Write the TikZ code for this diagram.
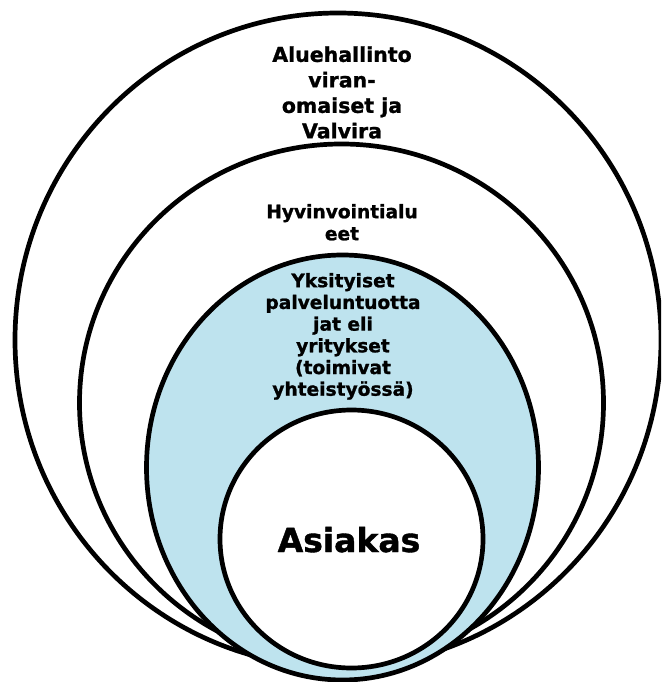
\documentclass[tikz,border=0pt]{standalone}
\usepackage{fontspec}
\setmainfont{DejaVu Sans}[BoldFeatures={FakeBold=1.2}]
\usetikzlibrary{shapes.geometric}
\definecolor{ringblue}{RGB}{190,227,238}
\tikzset{
  ring/.style={ellipse, draw=black, line width=4.7pt, inner sep=0pt, outer sep=0pt},
  lbl/.style={align=center, inner sep=0pt, anchor=north, font=\bfseries}
}
\begin{document}
\begin{tikzpicture}[x=1pt,y=-1pt]
\useasboundingbox (0,0) rectangle (661,682);
\clip (0,0) rectangle (661,682);
\node[ring, fill=white, minimum width=646pt, minimum height=654pt] (outer) at (338,340) {};
\node[ring, fill=white, minimum width=524pt, minimum height=518pt] (second) at (341.5,403) {};
\node[ring, fill=ringblue, minimum width=392pt, minimum height=425pt] (third) at (342.5,467.5) {};
\node[ring, fill=white, minimum width=263pt, minimum height=258pt] (inner) at (351.5,539) {};
\node[lbl, font=\bfseries\fontsize{20.5}{25.5}\selectfont] (t1) at (342,46.1) {Aluehallinto\\viran-\\omaiset ja\\Valvira};
\node[lbl, font=\bfseries\fontsize{18.6}{22}\selectfont] (t2) at (342,203.9) {Hyvinvointialu\\eet};
\node[lbl, font=\bfseries\fontsize{18.6}{21.7}\selectfont] (t3) at (343,272.9) {Yksityiset\\palveluntuotta\\jat eli\\yritykset\\(toimivat\\yhteistyössä)};
\node[font=\bfseries\fontsize{33}{40}\selectfont, inner sep=0pt, anchor=base] (t4) at (349,552) {Asiakas};
\end{tikzpicture}
\end{document}
